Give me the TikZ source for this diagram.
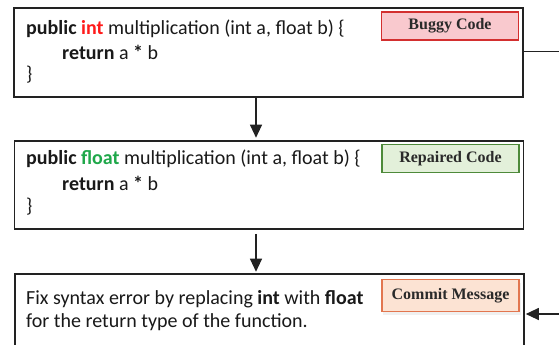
\documentclass[tikz,border=0pt]{standalone}
\usepackage{fontspec}
\setmainfont{Carlito}
\newfontfamily\labelfont{Liberation Serif}
\usetikzlibrary{arrows.meta}
\definecolor{boxline}{HTML}{222222}
\definecolor{bugfill}{HTML}{F9C9CE}
\definecolor{bugline}{HTML}{D32F2F}
\definecolor{repfill}{HTML}{E3F0DA}
\definecolor{repline}{HTML}{4E8A3A}
\definecolor{comfill}{HTML}{FCE3D3}
\definecolor{comline}{HTML}{E2764F}
\definecolor{kwred}{HTML}{FF1A1A}
\definecolor{kwgreen}{HTML}{1FA84A}
\definecolor{labtext}{HTML}{2A2A2A}
\tikzset{
  mainbox/.style={draw=boxline, line width=1.6pt, fill=white, inner sep=0pt},
  tag/.style={line width=1.2pt, inner sep=0pt, minimum width=137pt, minimum height=28pt,
    font=\labelfont\bfseries\fontsize{16}{18}\selectfont, text=labtext},
  codetext/.style={anchor=west, inner sep=0pt, font=\fontsize{20}{22}\selectfont, text=black!90},
  conn/.style={draw=boxline, line width=1.1pt},
  arr/.style={conn, -{Triangle[length=13pt, width=12pt]}},
}
\begin{document}
\begin{tikzpicture}[x=1pt,y=-1pt]
\useasboundingbox (0,0) rectangle (559,345);
\fill[white] (0,0) rectangle (559,345);
\clip (0,0) rectangle (559,345);
% boxes
\node[mainbox, minimum width=509pt, minimum height=89pt] (box1) at (268.5,52.5) {};
\node[mainbox, minimum width=509pt, minimum height=88pt] (box2) at (269,185) {};
\node[mainbox, minimum width=509pt, minimum height=96pt] (box3) at (269.5,322) {};
% tags
\node[tag, draw=bugline, fill=bugfill] (tag1) at (450,26) {Buggy Code};
\node[tag, draw=repline, fill=repfill] (tag2) at (450.5,158.5) {Repaired Code};
\fill[black!6] (383,283) rectangle (521,315);
\node[tag, draw=comline, fill=comfill, minimum height=32pt] (tag3) at (450.5,295.5) {Commit Message};
% code text
\node[codetext] (c1a) at (26,29) {\textbf{public} \textbf{\textcolor{kwred}{int}} multiplication (int a, float b) \{};
\node[codetext] (c1b) at (62,52) {\textbf{return} a \textbf{*} b};
\node[codetext] (c1c) at (26,75) {\}};
\node[codetext] (c2a) at (26,159) {\textbf{public} \textbf{\textcolor{kwgreen}{float}} multiplication (int a, float b) \{};
\node[codetext] (c2b) at (62,183) {\textbf{return} a \textbf{*} b};
\node[codetext] (c2c) at (26,207) {\}};
\node[codetext] (c3a) at (26,299) {Fix syntax error by replacing \textbf{int} with \textbf{float}};
\node[codetext] (c3b) at (26,322) {for the return type of the function.};
% connectors
\coordinate (ax) at (256,0);
\coordinate (r1) at (560,51.5);
\coordinate (r3) at (560,314);
\draw[arr, shorten >=2.5pt] (box1.south -| ax) -- (box2.north -| ax);
\draw[arr, shorten <=4pt, shorten >=1.5pt] (box2.south -| ax) -- (box3.north -| ax);
\draw[conn] (box1.east |- r1) -- (r1);
\draw[arr, shorten >=1pt] (r3) -- (box3.east |- r3);
\end{tikzpicture}
\end{document}
